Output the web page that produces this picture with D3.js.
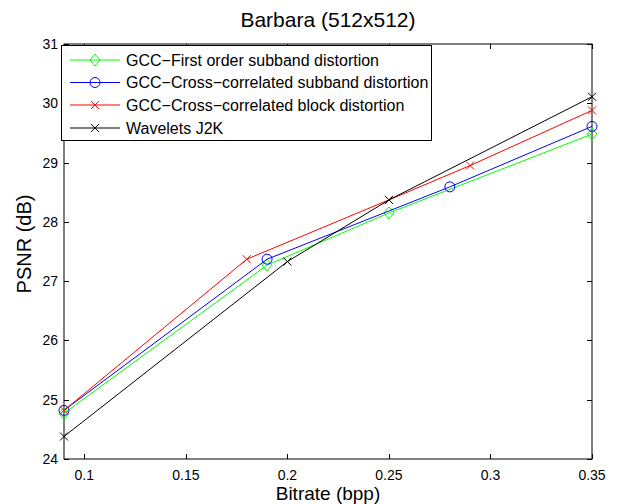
<!DOCTYPE html>
<html>
<head>
<meta charset="utf-8">
<script src="https://cdn.jsdelivr.net/npm/d3@7"></script>
<style>
  body { margin: 0; background: #fff; }
  svg { display: block; font-family: "Liberation Sans", Arial, sans-serif; }
</style>
</head>
<body>
<svg id="chart" width="621" height="504"></svg>
<script>
// PSNR vs bitrate, Barbara 512x512
const titleText = "Barbara (512x512)";
const xLabel = "Bitrate (bpp)";
const yLabel = "PSNR (dB)";

const xTicks = [0.1, 0.15, 0.2, 0.25, 0.3, 0.35];
const xTickLabels = ["0.1", "0.15", "0.2", "0.25", "0.3", "0.35"];
const yTicks = [24, 25, 26, 27, 28, 29, 30, 31];

const firstOrderX = [0.09, 0.19, 0.25, 0.35];
const firstOrderY = [24.77, 27.27, 28.15, 29.48];

const crossSubbandX = [0.09, 0.19, 0.28, 0.35];
const crossSubbandY = [24.82, 27.37, 28.59, 29.61];

const crossBlockX = [0.09, 0.18, 0.25, 0.29, 0.35];
const crossBlockY = [24.82, 27.37, 28.37, 28.95, 29.88];

const j2kX = [0.09, 0.2, 0.25, 0.35];
const j2kY = [24.38, 27.33, 28.37, 30.11];

const seriesNames = [
  "GCC\u2212First order subband distortion",
  "GCC\u2212Cross\u2212correlated subband distortion",
  "GCC\u2212Cross\u2212correlated block distortion",
  "Wavelets J2K"
];

const series = [
  { name: seriesNames[0], xs: firstOrderX, ys: firstOrderY, color: "#00ff00", marker: "diamond" },
  { name: seriesNames[1], xs: crossSubbandX, ys: crossSubbandY, color: "#0000ff", marker: "circle" },
  { name: seriesNames[2], xs: crossBlockX, ys: crossBlockY, color: "#ff0000", marker: "cross" },
  { name: seriesNames[3], xs: j2kX, ys: j2kY, color: "#000000", marker: "cross" }
];

const svg = d3.select("#chart");
const plotL = 64, plotR = 592, plotT = 44, plotB = 459;

const x = d3.scaleLinear().domain([0.09, 0.35]).range([plotL, plotR]);
const y = d3.scaleLinear().domain([24, 31]).range([plotB, plotT]);

// plot box
svg.append("rect")
  .attr("x", plotL).attr("y", plotT)
  .attr("width", plotR - plotL).attr("height", plotB - plotT)
  .attr("fill", "#fff").attr("stroke", "#000").attr("stroke-width", 1);

const tickLen = 5;
const axisG = svg.append("g").attr("stroke", "#000").attr("stroke-width", 1);
xTicks.forEach(t => {
  const px = Math.round(x(t)) + 0.5;
  axisG.append("line").attr("x1", px).attr("x2", px).attr("y1", plotB).attr("y2", plotB - tickLen);
  axisG.append("line").attr("x1", px).attr("x2", px).attr("y1", plotT).attr("y2", plotT + tickLen);
});
yTicks.forEach(t => {
  const py = Math.round(y(t)) + 0.5;
  axisG.append("line").attr("x1", plotL).attr("x2", plotL + tickLen).attr("y1", py).attr("y2", py);
  axisG.append("line").attr("x1", plotR).attr("x2", plotR - tickLen).attr("y1", py).attr("y2", py);
});

// tick labels
xTicks.forEach((t, i) => {
  svg.append("text").attr("x", x(t)).attr("y", plotB + 21)
    .attr("text-anchor", "middle").attr("font-size", 14).attr("fill", "#000")
    .text(xTickLabels[i]);
});
yTicks.forEach(t => {
  svg.append("text").attr("x", plotL - 6).attr("y", y(t) + 5)
    .attr("text-anchor", "end").attr("font-size", 14).attr("fill", "#000")
    .text(t);
});

// titles
svg.append("text").attr("x", (plotL + plotR) / 2).attr("y", 27)
  .attr("text-anchor", "middle").attr("font-size", 21).text(titleText);
svg.append("text").attr("x", (plotL + plotR) / 2).attr("y", 500)
  .attr("text-anchor", "middle").attr("font-size", 19).text(xLabel);
svg.append("text")
  .attr("transform", "translate(31,244) rotate(-90)")
  .attr("text-anchor", "middle").attr("font-size", 20).text(yLabel);

function drawMarker(g, cx, cy, type, color) {
  if (type === "diamond") {
    g.append("path")
      .attr("d", `M${cx},${cy - 6}L${cx + 5},${cy}L${cx},${cy + 6}L${cx - 5},${cy}Z`)
      .attr("fill", "none").attr("stroke", color).attr("stroke-width", 1);
  } else if (type === "circle") {
    g.append("circle").attr("cx", cx).attr("cy", cy).attr("r", 5)
      .attr("fill", "none").attr("stroke", color).attr("stroke-width", 1);
  } else {
    const s = 4;
    g.append("path")
      .attr("d", `M${cx - s},${cy - s}L${cx + s},${cy + s}M${cx - s},${cy + s}L${cx + s},${cy - s}`)
      .attr("fill", "none").attr("stroke", color).attr("stroke-width", 1);
  }
}

const line = d3.line().x(d => x(d[0])).y(d => y(d[1]));
const plotG = svg.append("g");
series.forEach(s => {
  const pts = s.xs.map((v, i) => [v, s.ys[i]]);
  plotG.append("path").datum(pts).attr("d", line)
    .attr("fill", "none").attr("stroke", s.color).attr("stroke-width", 1);
  pts.forEach(p => drawMarker(plotG, x(p[0]), y(p[1]), s.marker, s.color));
});

// legend
const lg = svg.append("g");
lg.append("rect").attr("x", 61.5).attr("y", 45.5).attr("width", 370).attr("height", 95)
  .attr("fill", "#fff").attr("stroke", "#000").attr("stroke-width", 1);
const rowY = [60, 82.5, 105, 128];
series.forEach((s, i) => {
  const ry = rowY[i];
  lg.append("line").attr("x1", 70).attr("x2", 120).attr("y1", ry).attr("y2", ry)
    .attr("stroke", s.color).attr("stroke-width", 1);
  drawMarker(lg, 95, ry, s.marker, s.color);
  lg.append("text").attr("x", 126).attr("y", ry + 5.5).attr("font-size", 16).text(s.name);
});
</script>
</body>
</html>
